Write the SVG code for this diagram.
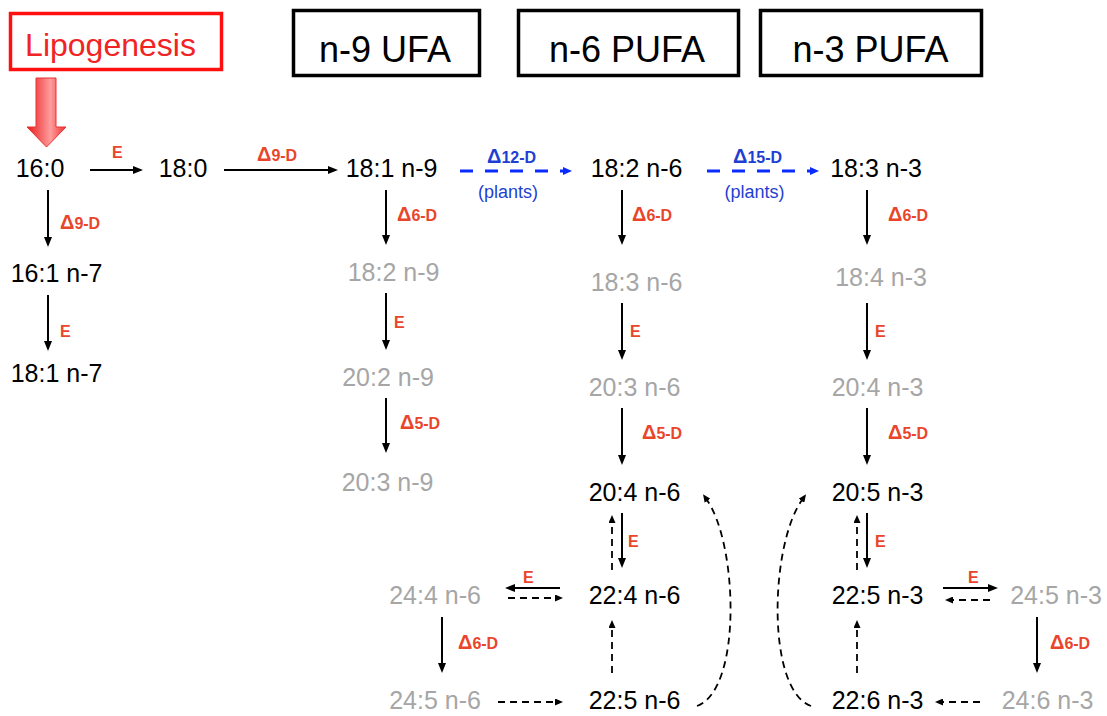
<svg xmlns="http://www.w3.org/2000/svg" width="1107" height="716" viewBox="0 0 1107 716">
<style>
text{font-family:"Liberation Sans",Arial,sans-serif}
.hdr{font-size:36px;fill:#000;text-anchor:middle}
.hbox{fill:#fff;stroke:#000;stroke-width:3.5}
.nd{font-size:25px;fill:#000;text-anchor:middle}
.gr{fill:#a6a6a6}
.enz{font-weight:bold;fill:#e9452b;font-size:16px}
.enz .d{font-size:20px}
.blu{fill:#1e3fd2}
.sol{stroke:#000;stroke-width:2;fill:none;marker-end:url(#ah)}
.dsh{stroke:#000;stroke-width:1.8;fill:none;stroke-dasharray:7 5;marker-end:url(#dh)}
.bl{stroke:#0a2bff;stroke-width:3;fill:none;stroke-dasharray:13 12;marker-end:url(#bh)}
</style>
<defs>
<marker id="ah" viewBox="0 0 10 8" refX="1" refY="4" markerWidth="10" markerHeight="8" markerUnits="userSpaceOnUse" orient="auto"><path d="M0,0 L10,4 L0,8 z" fill="#000"/></marker>
<marker id="dh" viewBox="0 0 8 7" refX="1" refY="3.5" markerWidth="8" markerHeight="7" markerUnits="userSpaceOnUse" orient="auto"><path d="M0,0 L8,3.5 L0,7 z" fill="#000"/></marker>
<marker id="bh" viewBox="0 0 9 8" refX="1" refY="4" markerWidth="9" markerHeight="8" markerUnits="userSpaceOnUse" orient="auto"><path d="M0,0 L9,4 L0,8 z" fill="#0a2bff"/></marker>
<linearGradient id="rg" x1="0" y1="0" x2="1" y2="0">
<stop offset="0" stop-color="#e8191c"/><stop offset="0.6" stop-color="#ff9c9c"/><stop offset="1" stop-color="#f03030"/>
</linearGradient>
</defs>

<g id="lipogenesis">
<rect x="10.5" y="13.5" width="211" height="56" fill="#fff" stroke="#ff1010" stroke-width="3.5"/>
<text x="110.5" y="56" font-size="32" fill="#f02424" text-anchor="middle">Lipogenesis</text>
<polygon points="36,78 56,78 56,127 66,127 46.5,147 27,127 36,127" fill="url(#rg)" stroke="#e83030" stroke-width="1"/>
</g>

<g id="header-n9"><rect class="hbox" x="293.5" y="10.5" width="186" height="65"/><text class="hdr" x="385" y="62">n-9 UFA</text></g>
<g id="header-n6"><rect class="hbox" x="518.5" y="10.5" width="220" height="65"/><text class="hdr" x="627" y="62">n-6 PUFA</text></g>
<g id="header-n3"><rect class="hbox" x="760.5" y="10.5" width="221" height="65"/><text class="hdr" x="870.5" y="62">n-3 PUFA</text></g>

<g id="n-16-0"><text class="nd" x="40" y="177">16:0</text></g>
<g id="n-18-0"><text class="nd" x="183" y="177">18:0</text></g>
<g id="n-18-1-n9"><text class="nd" x="391.5" y="177">18:1 n-9</text></g>
<g id="n-18-2-n6"><text class="nd" x="636.5" y="177">18:2 n-6</text></g>
<g id="n-18-3-n3"><text class="nd" x="876" y="177">18:3 n-3</text></g>
<g id="n-16-1-n7"><text class="nd" x="56.5" y="282">16:1 n-7</text></g>
<g id="n-18-1-n7"><text class="nd" x="56.5" y="382">18:1 n-7</text></g>
<g id="n-18-2-n9"><text class="nd gr" x="393.5" y="281">18:2 n-9</text></g>
<g id="n-20-2-n9"><text class="nd gr" x="388" y="386">20:2 n-9</text></g>
<g id="n-20-3-n9"><text class="nd gr" x="387.5" y="491">20:3 n-9</text></g>
<g id="n-18-3-n6"><text class="nd gr" x="636.5" y="291">18:3 n-6</text></g>
<g id="n-20-3-n6"><text class="nd gr" x="634.5" y="396">20:3 n-6</text></g>
<g id="n-20-4-n6"><text class="nd" x="634.5" y="501">20:4 n-6</text></g>
<g id="n-22-4-n6"><text class="nd" x="634.5" y="604">22:4 n-6</text></g>
<g id="n-22-5-n6"><text class="nd" x="634.5" y="709">22:5 n-6</text></g>
<g id="n-24-4-n6"><text class="nd gr" x="435" y="604">24:4 n-6</text></g>
<g id="n-24-5-n6"><text class="nd gr" x="435" y="709">24:5 n-6</text></g>
<g id="n-18-4-n3"><text class="nd gr" x="881" y="286">18:4 n-3</text></g>
<g id="n-20-4-n3"><text class="nd gr" x="877.5" y="396">20:4 n-3</text></g>
<g id="n-20-5-n3"><text class="nd" x="877.5" y="501">20:5 n-3</text></g>
<g id="n-22-5-n3"><text class="nd" x="877.5" y="604">22:5 n-3</text></g>
<g id="n-22-6-n3"><text class="nd" x="877.5" y="709">22:6 n-3</text></g>
<g id="n-24-5-n3"><text class="nd gr" x="1056" y="604">24:5 n-3</text></g>
<g id="n-24-6-n3"><text class="nd gr" x="1047.5" y="709">24:6 n-3</text></g>

<g id="connectors">
<path class="sol" d="M90,170 L134,170"/>
<path class="sol" d="M224,170 L329,170"/>
<path class="sol" d="M48,190 L48,238"/>
<path class="sol" d="M48,295 L48,342"/>
<path class="sol" d="M386,190 L386,236"/>
<path class="sol" d="M386,293 L386,341"/>
<path class="sol" d="M386,398 L386,444"/>
<path class="sol" d="M622,190 L622,236"/>
<path class="sol" d="M622,303 L622,351"/>
<path class="sol" d="M622,408 L622,456"/>
<path class="sol" d="M622,513 L622,559"/>
<path class="sol" d="M867,190 L867,236"/>
<path class="sol" d="M867,303 L867,351"/>
<path class="sol" d="M867,408 L867,456"/>
<path class="sol" d="M867,513 L867,559"/>
<path class="sol" d="M560,588 L514,588"/>
<path class="sol" d="M442,617 L442,664"/>
<path class="sol" d="M943,588 L989,588"/>
<path class="sol" d="M1037,617 L1037,664"/>
<path class="dsh" d="M612,570 L612,522"/>
<path class="dsh" d="M508,598 L556,598"/>
<path class="dsh" d="M498,702 L556,702"/>
<path class="dsh" d="M612,673 L612,627"/>
<path class="dsh" d="M857,570 L857,522"/>
<path class="dsh" d="M990,600 L952,600"/>
<path class="dsh" d="M980,702 L942,702"/>
<path class="dsh" d="M857,673 L857,627"/>
<path class="dsh" d="M697,706 C742,690 738,545 707,500"/>
<path class="dsh" d="M811,706 C766,690 770,545 802,500"/>
<path class="bl" d="M460,171 L564,171"/>
<path class="bl" d="M707,171 L811,171"/>
</g>

<g id="enzyme-labels">
<text class="enz" x="112" y="158">E</text>
<text class="enz" x="257" y="161"><tspan class="d">Δ</tspan>9-D</text>
<text class="enz" x="60" y="229"><tspan class="d">Δ</tspan>9-D</text>
<text class="enz" x="60" y="337">E</text>
<text class="enz" x="397" y="221"><tspan class="d">Δ</tspan>6-D</text>
<text class="enz" x="394" y="328">E</text>
<text class="enz" x="400" y="429"><tspan class="d">Δ</tspan>5-D</text>
<text class="enz" x="632" y="221"><tspan class="d">Δ</tspan>6-D</text>
<text class="enz" x="630" y="337">E</text>
<text class="enz" x="642" y="439"><tspan class="d">Δ</tspan>5-D</text>
<text class="enz" x="628" y="547">E</text>
<text class="enz" x="888" y="221"><tspan class="d">Δ</tspan>6-D</text>
<text class="enz" x="875" y="337">E</text>
<text class="enz" x="888" y="439"><tspan class="d">Δ</tspan>5-D</text>
<text class="enz" x="875" y="547">E</text>
<text class="enz" x="523" y="583">E</text>
<text class="enz" x="458" y="649"><tspan class="d">Δ</tspan>6-D</text>
<text class="enz" x="968" y="583">E</text>
<text class="enz" x="1050" y="649"><tspan class="d">Δ</tspan>6-D</text>
<text class="enz blu" x="487" y="163"><tspan class="d">Δ</tspan>12-D</text>
<text class="blu" x="508" y="198" font-size="18" text-anchor="middle">(plants)</text>
<text class="enz blu" x="733" y="163"><tspan class="d">Δ</tspan>15-D</text>
<text class="blu" x="754.5" y="198" font-size="18" text-anchor="middle">(plants)</text>
</g>
</svg>
